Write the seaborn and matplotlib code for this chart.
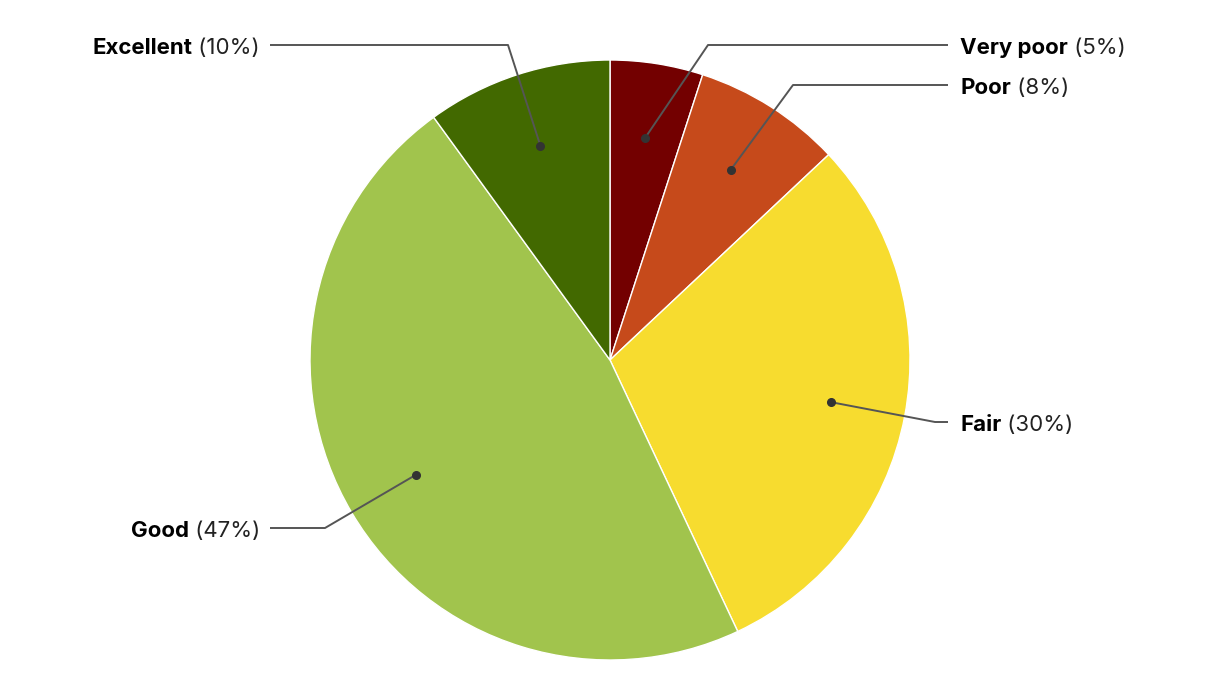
import matplotlib
matplotlib.use("Agg")
import matplotlib.pyplot as plt
import seaborn as sns
import numpy as np

categories = ["Very poor", "Poor", "Fair", "Good", "Excellent"]
shares = [5, 8, 30, 47, 10]
colors = ["#730000", "#C64A1B", "#F7DC2F", "#A1C44D", "#426900"]

# label layout in pixels (elbow x, elbow y, line end x, side)
label_layout = {
    "Very poor": (708, 45, 948, "right"),
    "Poor": (793, 85, 948, "right"),
    "Fair": (935, 422, 948, "right"),
    "Good": (325, 528, 270, "left"),
    "Excellent": (508, 45, 270, "left"),
}

sns.set_theme(style="white")
plt.rcParams["font.family"] = ["Inter", "DejaVu Sans"]

W, H, R = 1220, 700, 300
cx, cy = 610, 360
fig = plt.figure(figsize=(W / 100, H / 100), dpi=100)
ax = fig.add_axes([0, 0, 1, 1])

wedges, _ = ax.pie(shares, colors=colors, startangle=90, counterclock=False,
                   radius=1.0, wedgeprops=dict(edgecolor="white", linewidth=1))

# pie resets the limits, so set them afterwards
ax.set_xlim(-cx / R, (W - cx) / R)
ax.set_ylim(-(H - cy) / R, cy / R)
ax.set_aspect("equal")
ax.axis("off")
fig.canvas.draw()


def px(x, y):
    return (x - cx) / R, (cy - y) / R


renderer = fig.canvas.get_renderer()
fs = 16
for w, name, val in zip(wedges, categories, shares):
    mid = np.deg2rad((w.theta1 + w.theta2) / 2)
    dx, dy = 0.75 * np.cos(mid), 0.75 * np.sin(mid)
    ex, ey, lx, side = label_layout[name]
    exd, eyd = px(ex, ey)
    lxd, _ = px(lx, ey)
    ax.plot([dx, exd, lxd], [dy, eyd, eyd], color="#555555", lw=1.4,
            solid_capstyle="butt", zorder=3)
    ax.plot(dx, dy, "o", color="#333333", ms=5.5, zorder=4)
    pct = f" ({val}%)"
    _, tyd = px(0, ey + 1)
    if side == "right":
        tx, _ = px(lx + 12, ey)
        t1 = ax.text(tx, tyd, name, fontsize=fs, fontweight="bold",
                     ha="left", va="center_baseline", color="black")
        bb = t1.get_window_extent(renderer)
        x2 = ax.transData.inverted().transform((bb.x1, 0))[0]
        ax.text(x2, tyd, pct, fontsize=fs, ha="left", va="center_baseline",
                color="#222222")
    else:
        tx, _ = px(lx - 10, ey)
        t2 = ax.text(tx, tyd, pct, fontsize=fs, ha="right", va="center_baseline",
                     color="#222222")
        bb = t2.get_window_extent(renderer)
        x1 = ax.transData.inverted().transform((bb.x0, 0))[0]
        ax.text(x1, tyd, name, fontsize=fs, fontweight="bold",
                ha="right", va="center_baseline", color="black")

fig.savefig("out.png", dpi=100, facecolor="white")
